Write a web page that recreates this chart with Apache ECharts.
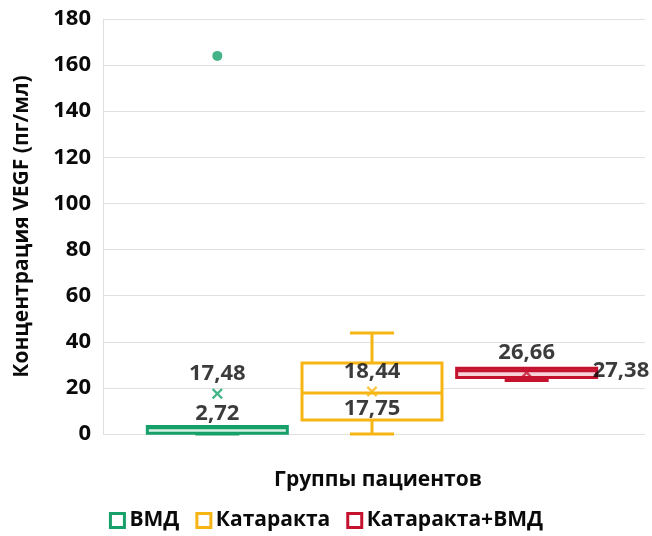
<!DOCTYPE html>
<html>
<head>
<meta charset="utf-8">
<script src="https://cdn.jsdelivr.net/npm/echarts@6/dist/echarts.min.js"></script>
<style>html,body{margin:0;padding:0;background:#fff}#c{width:652px;height:536px}</style>
</head>
<body>
<div id="c"></div>
<script>
// ---- data ----
const categories = ['ВМД', 'Катаракта', 'Катаракта+ВМД'];
const boxMin = [0, 0, 23.2];
const boxQ1 = [0.3, 6.1, 24.5];
const boxMedian = [2.72, 17.75, 27.38];
const boxQ3 = [3.2, 30.8, 28.5];
const boxMax = [3.2, 43.8, 28.5];
const means = [17.48, 18.44, 26.66];
const outlierGroup = [0];
const outlierValue = [164];
const yMin = 0, yMax = 180, yInterval = 20;
const yTitle = 'Концентрация VEGF (пг/мл)';
const xTitle = 'Группы пациентов';

// ---- styles ----
const colors = ['#17a06a', '#f7b514', '#c4122f'];
const fills = ['#d9f0e4', '#ffffff', '#f7d4da'];
const FONT = 'Open Sans';
const textColor = '#0a0a0a';
const fmt = v => v.toFixed(2).replace('.', ',');
const xPath = 'path://M1.5,0 L5,3.5 L8.5,0 L10,1.5 L6.5,5 L10,8.5 L8.5,10 L5,6.5 L1.5,10 L0,8.5 L3.5,5 L0,1.5 Z';

function makeRender(color, fill) {
  return function (params, api) {
    const cat = api.value(0);
    const pMin = api.coord([cat, api.value(1)]);
    const pQ1 = api.coord([cat, api.value(2)]);
    const pMed = api.coord([cat, api.value(3)]);
    const pQ3 = api.coord([cat, api.value(4)]);
    const pMax = api.coord([cat, api.value(5)]);
    const x = pMed[0];
    const hw = 70, cw = 22;
    const ls = { stroke: color, lineWidth: 3, fill: null };
    const children = [];
    if (pMax[1] < pQ3[1] - 0.5) {
      children.push({ type: 'line', shape: { x1: x, y1: pMax[1], x2: x, y2: pQ3[1] }, style: ls });
      children.push({ type: 'line', shape: { x1: x - cw, y1: pMax[1], x2: x + cw, y2: pMax[1] }, style: ls });
    }
    if (pMin[1] > pQ1[1] + 0.5) {
      children.push({ type: 'line', shape: { x1: x, y1: pQ1[1], x2: x, y2: pMin[1] }, style: ls });
      children.push({ type: 'line', shape: { x1: x - cw, y1: pMin[1], x2: x + cw, y2: pMin[1] }, style: ls });
    }
    children.push({ type: 'rect', shape: { x: x - hw, y: pQ3[1], width: 2 * hw, height: pQ1[1] - pQ3[1] },
      style: { stroke: color, lineWidth: 3, fill: fill } });
    children.push({ type: 'line', shape: { x1: x - hw, y1: pMed[1], x2: x + hw, y2: pMed[1] }, style: ls });
    return { type: 'group', children: children };
  };
}

const boxSeries = categories.map((name, i) => ({
  name: name,
  type: 'custom',
  xAxisIndex: 1, yAxisIndex: 1,
  itemStyle: { color: colors[i] },
  renderItem: makeRender(colors[i], fills[i]),
  data: [[i, boxMin[i], boxQ1[i], boxMedian[i], boxQ3[i], boxMax[i]]],
  z: 2
}));

const labelStyle = { color: textColor, fontFamily: FONT, fontWeight: 'bold', fontSize: 22 };

const meanSeries = {
  type: 'scatter', xAxisIndex: 1, yAxisIndex: 1, z: 5,
  symbol: xPath, symbolSize: 11,
  data: means.map((m, i) => ({ value: [i, m], itemStyle: { color: colors[i] } })),
  label: Object.assign({ show: true, position: 'top', distance: 3, formatter: p => fmt(p.value[1]) }, labelStyle)
};

const medianLabelLayout = [
  { position: 'top', distance: 3 },
  { position: 'bottom', distance: 5 },
  { position: 'right', distance: 66 }
];
const medianSeries = {
  type: 'scatter', xAxisIndex: 1, yAxisIndex: 1, z: 6,
  symbolSize: 0, silent: true,
  data: boxMedian.map((m, i) => ({
    value: [i, m],
    label: Object.assign({ show: true, formatter: p => fmt(p.value[1]) }, labelStyle, medianLabelLayout[i])
  }))
};

const outlierSeries = {
  type: 'scatter', xAxisIndex: 1, yAxisIndex: 1, z: 4,
  symbol: 'circle', symbolSize: 10,
  data: outlierGroup.map((g, i) => ({ value: [g, outlierValue[i]], itemStyle: { color: colors[g] } }))
};

const chart = echarts.init(document.getElementById('c'), null, { renderer: 'canvas' });
chart.setOption({
  animation: false,
  backgroundColor: '#ffffff',
  grid: [
    { left: 103, right: 7, top: 19, bottom: 102, containLabel: false, outerBoundsMode: 'none' },
    { left: 140, width: 464, top: 19, bottom: 102, containLabel: false, outerBoundsMode: 'none' }
  ],
  xAxis: [
    { gridIndex: 0, type: 'category', data: [''],
      axisLine: { show: false }, axisTick: { show: false }, axisLabel: { show: false },
      name: xTitle, nameLocation: 'middle', nameGap: 36,
      nameTextStyle: { color: textColor, fontFamily: FONT, fontWeight: 'bold', fontSize: 21, padding: [0, 0, 0, 8] } },
    { gridIndex: 1, type: 'category', data: categories, show: false }
  ],
  yAxis: [
    { gridIndex: 0, type: 'value', min: yMin, max: yMax, interval: yInterval,
      axisLine: { show: true, lineStyle: { color: '#e0e0e0', width: 1 } },
      axisTick: { show: false },
      splitLine: { show: true, lineStyle: { color: '#e0e0e0', width: 1 } },
      axisLabel: { color: textColor, fontFamily: FONT, fontWeight: 'bold', fontSize: 22, margin: 12 },
      name: yTitle, nameLocation: 'middle', nameGap: 70,
      nameTextStyle: { color: textColor, fontFamily: FONT, fontWeight: 'bold', fontSize: 21 } },
    { gridIndex: 1, type: 'value', min: yMin, max: yMax, interval: yInterval, show: false }
  ],
  legend: {
    data: categories.map((c, i) => ({ name: c, icon: 'rect',
      itemStyle: { color: '#ffffff', borderColor: colors[i], borderWidth: 3 } })),
    bottom: 0, left: 'center', itemWidth: 14, itemHeight: 14, itemGap: 16,
    textStyle: { color: textColor, fontFamily: FONT, fontWeight: 'bold', fontSize: 21, padding: [0, 0, 0, 0] }
  },
  series: boxSeries.concat([outlierSeries, meanSeries, medianSeries])
});
</script>
</body>
</html>
